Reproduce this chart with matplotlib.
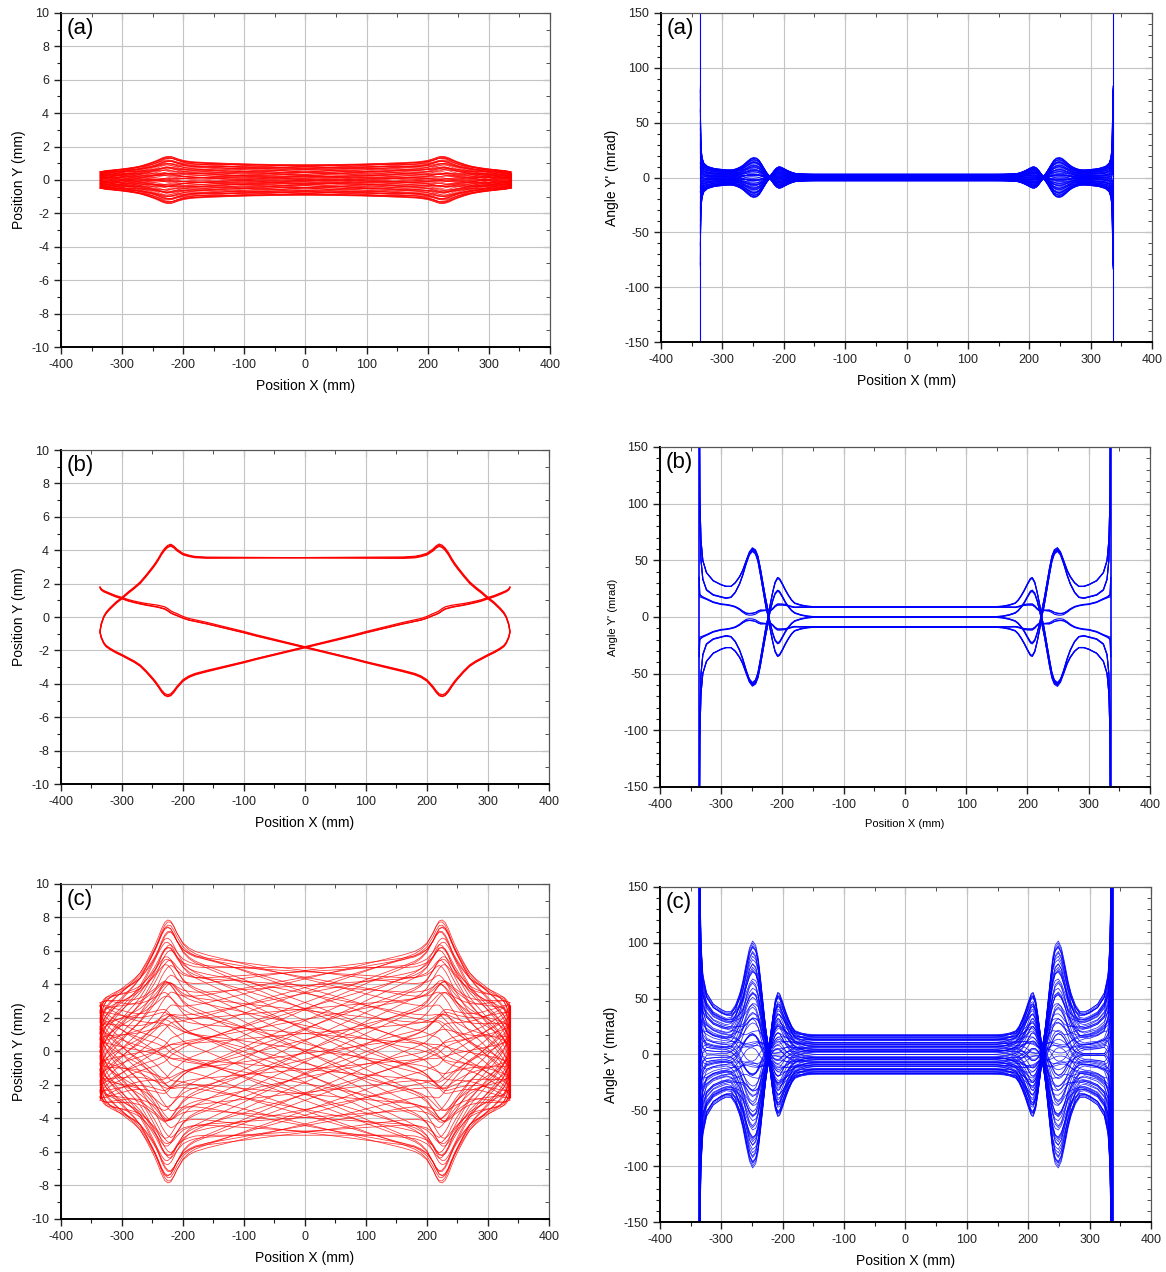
import numpy as np
import matplotlib
matplotlib.use('Agg')
import matplotlib.pyplot as plt
from matplotlib.ticker import MultipleLocator

plt.rcParams['font.family'] = ['Liberation Sans', 'DejaVu Sans']
plt.rcParams['axes.unicode_minus'] = False

# --- basis rays (right half, mirrored to x < 0) ---
# position grid (mm) and y per unit amplitude: P = "parallel" ray, S = "sine" ray
XH = [0, 20, 40, 60, 80, 100, 120, 140, 160, 180, 190, 200, 210, 215, 220, 225,
      230, 235, 240, 245, 250, 260, 270, 280, 290, 300, 310, 320, 326, 330, 334, 336]
P_H = [1.0, 1.0, 1.0, 1.0, 1.0, 1.0, 1.0, 1.0, 1.0, 1.01, 1.03, 1.06, 1.13, 1.18, 1.21, 1.19,
       1.14, 1.07, 0.98, 0.90, 0.83, 0.70, 0.58, 0.49, 0.41, 0.32, 0.24, 0.14, 0.07, 0.0, -0.12, -0.24]
S_H = [0.0, 0.11, 0.22, 0.33, 0.44, 0.56, 0.67, 0.78, 0.89, 1.0, 1.07, 1.18, 1.36, 1.46, 1.55, 1.61,
       1.62, 1.57, 1.50, 1.43, 1.37, 1.26, 1.17, 1.12, 1.09, 1.07, 1.05, 1.03, 1.01, 0.97, 0.90, 0.84]

# angle grid (mm) and angle (mrad) per unit amplitude for the same two rays
XA = [0, 40, 80, 120, 140, 150, 160, 170, 180, 185, 190, 195, 200, 205, 208, 212, 216, 220,
      222, 224, 226, 228, 232, 236, 240, 244, 249, 254, 259, 265, 270, 277, 284, 292, 300,
      313, 324, 330, 333, 335, 336]
PA_H = [0, 0, 0, 0, 0, 0.05, 0.2, 0.5, 1.0, 1.6, 2.5, 3.6, 5.0, 6.3, 6.5, 5.8, 4.0, 1.5,
        0.0, -2.0, -3.5, -5.0, -8.5, -12.0, -15.0, -16.5, -17.0, -16.0, -14.0, -11.5, -10.0, -8.5, -7.6, -7.6, -8.0,
        -9.0, -11.0, -14.0, -19.0, -30.0, -80.0]
SA_H = [5.56, 5.56, 5.56, 5.56, 5.56, 5.58, 5.7, 6.0, 6.5, 7.5, 9.0, 10.7, 12.5, 14.0, 14.2, 12.5, 9.0, 5.0,
        3.0, 1.0, 0.0, -2.0, -6.0, -10.0, -14.0, -16.5, -17.5, -16.5, -14.0, -10.0, -7.0, -4.0, -2.3, -1.8, -2.0,
        -2.0, -2.5, -5.0, -10.0, -22.0, -70.0]

# ray bundle (normalised amplitudes of P and S), used for panels (a) and (c)
RAY_A = [1.0, 0.966, 0.866, 0.707, 0.5, 0.259, 0.0, -0.259, -0.5, -0.707, -0.866, -0.966,
         0.952, 0.886, 0.762, 0.584, 0.368, 0.126, -0.126, -0.368, -0.584, -0.762, -0.886, -0.952,
         0.788, 0.693, 0.514, 0.274, 0.0, -0.274, -0.514, -0.693, -0.788,
         0.508, 0.382, 0.14, -0.094, -0.31, -0.49,
         0.214, -0.024, -0.214]
RAY_B = [0.0, 0.259, 0.5, 0.707, 0.866, 0.966, 1.0, 0.966, 0.866, 0.707, 0.5, 0.259,
         0.125, 0.366, 0.584, 0.762, 0.888, 0.95, 0.95, 0.888, 0.762, 0.584, 0.366, 0.125,
         0.138, 0.4, 0.613, 0.753, 0.8, 0.753, 0.613, 0.4, 0.138,
         0.184, 0.381, 0.522, 0.531, 0.444, 0.228,
         0.181, 0.281, 0.181]

AMP_A = (0.92, 0.56)    # panel (a): mm of P, mm of S at 180 mm
AMP_C = (5.0, 3.2)      # panel (c)
END_SPAN_A = 0.45       # y range swept at the turning points (mm)
END_SPAN_C = 2.8

# panel (b): single closed orbit, three legs with small spread
ORBIT_A = [-1.80, -1.84, -1.78, 3.55, 3.55, 3.56, -1.80, -1.84, -1.78]
ORBIT_B = [-1.56, -1.60, -1.63, -0.04, 0.0, 0.04, 1.56, 1.60, 1.63]
X_TURN = 336


def mirror_even(h):
    h = np.asarray(h, float)
    return np.concatenate([h[:0:-1], h])


def mirror_odd(h):
    h = np.asarray(h, float)
    return np.concatenate([-h[:0:-1], h])


x_pos = mirror_odd(XH)
P = mirror_even(P_H)
S = mirror_odd(S_H)
x_ang = mirror_odd(XA)
PA = mirror_odd(PA_H)
SA = mirror_even(SA_H)

RED = '#ff0000'
BLUE = '#0000ff'

fig = plt.figure(figsize=(11.66, 12.72), dpi=100)
boxes = {
    'a_l': [0.0523, 0.7272, 0.4194, 0.2626],
    'a_r': [0.5669, 0.7311, 0.4211, 0.2587],
    'b_l': [0.0523, 0.3836, 0.4185, 0.2626],
    'b_r': [0.5660, 0.3813, 0.4202, 0.2673],
    'c_l': [0.0523, 0.0417, 0.4185, 0.2634],
    'c_r': [0.5660, 0.0393, 0.4211, 0.2634],
}


def style(ax, ylim, ymaj, ymin, ylabel, tag, small=False):
    ax.set_xlim(-400, 400)
    ax.set_ylim(*ylim)
    ax.xaxis.set_major_locator(MultipleLocator(100))
    ax.xaxis.set_minor_locator(MultipleLocator(50))
    ax.yaxis.set_major_locator(MultipleLocator(ymaj))
    ax.yaxis.set_minor_locator(MultipleLocator(ymin))
    ax.grid(True, which='major', color='#c4c4c4', lw=0.8)
    ax.set_axisbelow(True)
    ax.tick_params(which='both', direction='out', top=False, right=False,
                   labelsize=9, colors='#222222')
    ax.tick_params(which='major', length=5, width=1)
    ax.tick_params(which='minor', length=3, width=0.8)
    for side in ('bottom', 'left'):
        ax.spines[side].set_linewidth(1.4)
        ax.spines[side].set_color('black')
    for side in ('top', 'right'):
        ax.spines[side].set_linewidth(0.8)
        ax.spines[side].set_color('#555555')
    top = ax.secondary_xaxis('top')
    top.xaxis.set_major_locator(MultipleLocator(100))
    top.xaxis.set_minor_locator(MultipleLocator(50))
    top.tick_params(which='both', direction='in', labeltop=False, colors='#333333')
    top.tick_params(which='major', length=5)
    top.tick_params(which='minor', length=3)
    top.spines['top'].set_linewidth(0.8)
    top.spines['top'].set_color('#555555')
    right = ax.secondary_yaxis('right')
    right.yaxis.set_major_locator(MultipleLocator(ymaj))
    right.yaxis.set_minor_locator(MultipleLocator(ymin))
    right.tick_params(which='both', direction='in', labelright=False, colors='#333333')
    right.tick_params(which='major', length=5)
    right.tick_params(which='minor', length=3)
    right.spines['right'].set_linewidth(0.8)
    right.spines['right'].set_color('#555555')
    fs = 8 if small else 10
    ax.set_xlabel('Position X (mm)', fontsize=fs, labelpad=6)
    ax.set_ylabel(ylabel, fontsize=fs, labelpad=4)
    ax.text(0.012, 0.985, tag, transform=ax.transAxes, ha='left', va='top', fontsize=16)


# ---------------- left column: Y position ----------------
for key, amp, span, tag in (('a_l', AMP_A, END_SPAN_A, '(a)'), ('c_l', AMP_C, END_SPAN_C, '(c)')):
    ax = fig.add_axes(boxes[key])
    for a, b in zip(RAY_A, RAY_B):
        for sgn in (1, -1):
            ax.plot(x_pos, sgn * (amp[0] * a * P + amp[1] * b * S), color=RED, lw=0.55, alpha=0.8)
    ax.vlines([-X_TURN, -X_TURN + 2, X_TURN - 2, X_TURN], -span, span, color=RED, lw=0.8)
    style(ax, (-10, 10), 2, 1, 'Position Y (mm)', tag)

ax = fig.add_axes(boxes['b_l'])
for a, b in zip(ORBIT_A, ORBIT_B):
    ax.plot(x_pos, a * P + b * S, color=RED, lw=0.9)
style(ax, (-10, 10), 2, 1, 'Position Y (mm)', '(b)')

# ---------------- right column: angle Y' ----------------
for key, amp, tag in (('a_r', AMP_A, '(a)'), ('c_r', AMP_C, '(c)')):
    ax = fig.add_axes(boxes[key])
    for a, b in zip(RAY_A, RAY_B):
        for sgn in (1, -1):
            ax.plot(x_ang, sgn * (amp[0] * a * PA + amp[1] * b * SA), color=BLUE, lw=0.55, alpha=0.85)
    lw_end = 0.8 if key == 'a_r' else 2.0
    ax.axvline(-X_TURN, color=BLUE, lw=lw_end)
    ax.axvline(X_TURN, color=BLUE, lw=lw_end)
    style(ax, (-150, 150), 50, 10, "Angle Y' (mrad)", tag)

ax = fig.add_axes(boxes['b_r'])
for a, b in zip(ORBIT_A, ORBIT_B):
    for sgn in (1, -1):
        ax.plot(x_ang, sgn * (a * PA + b * SA), color=BLUE, lw=0.8)
ax.axvline(-X_TURN, color=BLUE, lw=1.2)
ax.axvline(X_TURN, color=BLUE, lw=1.2)
style(ax, (-150, 150), 50, 10, "Angle Y' (mrad)", '(b)', small=True)

fig.savefig('out.png', dpi=100)
